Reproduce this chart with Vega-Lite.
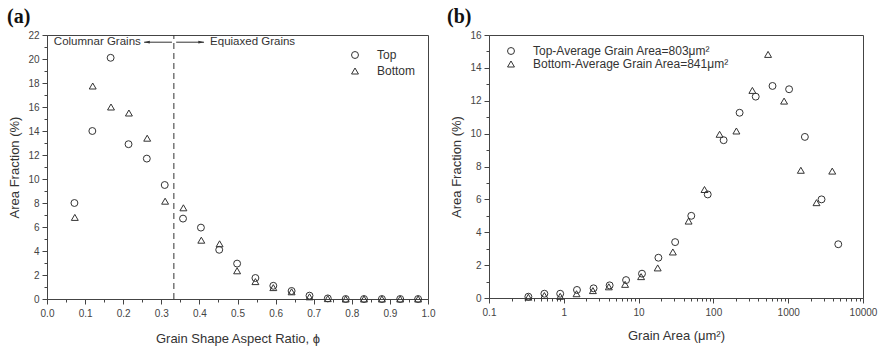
{
  "$schema": "https://vega.github.io/schema/vega-lite/v6.json",
  "padding": {"left": 6, "top": 6, "right": 2, "bottom": 2},
  "background": "white",
  "bounds": "flush",
  "spacing": 61,
  "config": {
    "font": "Liberation Sans",
    "view": {"stroke": "#444", "strokeWidth": 1},
    "axis": {
      "grid": false,
      "labelFont": "Liberation Sans",
      "labelFontSize": 10,
      "labelColor": "#444",
      "labelFlush": false,
      "titleFont": "Liberation Sans",
      "titleFontSize": 13,
      "titleFontWeight": "normal",
      "titleColor": "#333",
      "domainColor": "#444",
      "tickColor": "#444",
      "tickSize": 5,
      "labelPadding": 3
    },
    "legend": {
      "labelFont": "Liberation Sans",
      "labelFontSize": 12,
      "labelColor": "#333",
      "labelLimit": 0,
      "symbolStrokeColor": "#333",
      "symbolStrokeWidth": 1,
      "symbolFillColor": "transparent"
    }
  },
  "resolve": {"scale": {"shape": "independent"}, "legend": {"shape": "independent"}},
  "hconcat": [
    {
      "width": 381,
      "height": 264,
      "title": {"text": "(a)", "anchor": "start", "frame": "group", "dx": -40, "font": "Liberation Serif", "fontSize": 20, "fontWeight": "bold", "color": "#111", "offset": 3},
      "resolve": {"axis": {"x": "independent", "y": "independent"}},
      "layer": [
        {
          "data": {"values": [{"x": 0.333, "y": 0, "y2": 22}]},
          "mark": {"type": "rule", "strokeDash": [6, 4], "color": "#333", "strokeWidth": 1},
          "encoding": {
            "x": {"field": "x", "type": "quantitative", "scale": {"domain": [0, 1], "nice": false},
              "axis": {"orient": "bottom", "values": [0.05, 0.15, 0.25, 0.35, 0.45, 0.55, 0.65, 0.75, 0.85, 0.95], "labels": false, "domain": false, "tickSize": 3, "title": null}},
            "y": {"field": "y", "type": "quantitative", "scale": {"domain": [0, 22], "nice": false},
              "axis": {"orient": "left", "values": [1, 3, 5, 7, 9, 11, 13, 15, 17, 19, 21], "labels": false, "domain": false, "tickSize": 3, "title": null}},
            "y2": {"field": "y2"}
          }
        },
        {
          "data": {"values": [
            {"x": 0.072, "y": 8.0, "s": "Top"},
            {"x": 0.119, "y": 14.0, "s": "Top"},
            {"x": 0.167, "y": 20.1, "s": "Top"},
            {"x": 0.214, "y": 12.9, "s": "Top"},
            {"x": 0.262, "y": 11.7, "s": "Top"},
            {"x": 0.309, "y": 9.5, "s": "Top"},
            {"x": 0.357, "y": 6.7, "s": "Top"},
            {"x": 0.404, "y": 5.95, "s": "Top"},
            {"x": 0.452, "y": 4.1, "s": "Top"},
            {"x": 0.499, "y": 2.95, "s": "Top"},
            {"x": 0.547, "y": 1.75, "s": "Top"},
            {"x": 0.594, "y": 1.1, "s": "Top"},
            {"x": 0.642, "y": 0.67, "s": "Top"},
            {"x": 0.689, "y": 0.28, "s": "Top"},
            {"x": 0.737, "y": 0.05, "s": "Top"},
            {"x": 0.784, "y": 0.0, "s": "Top"},
            {"x": 0.832, "y": 0.0, "s": "Top"},
            {"x": 0.879, "y": 0.0, "s": "Top"},
            {"x": 0.927, "y": 0.0, "s": "Top"},
            {"x": 0.974, "y": 0.0, "s": "Top"},
            {"x": 0.073, "y": 6.8, "s": "Bottom"},
            {"x": 0.120, "y": 17.75, "s": "Bottom"},
            {"x": 0.168, "y": 16.0, "s": "Bottom"},
            {"x": 0.215, "y": 15.5, "s": "Bottom"},
            {"x": 0.263, "y": 13.4, "s": "Bottom"},
            {"x": 0.310, "y": 8.15, "s": "Bottom"},
            {"x": 0.358, "y": 7.6, "s": "Bottom"},
            {"x": 0.405, "y": 4.9, "s": "Bottom"},
            {"x": 0.453, "y": 4.6, "s": "Bottom"},
            {"x": 0.499, "y": 2.35, "s": "Bottom"},
            {"x": 0.547, "y": 1.45, "s": "Bottom"},
            {"x": 0.594, "y": 0.95, "s": "Bottom"},
            {"x": 0.642, "y": 0.6, "s": "Bottom"},
            {"x": 0.689, "y": 0.18, "s": "Bottom"},
            {"x": 0.737, "y": 0.03, "s": "Bottom"},
            {"x": 0.784, "y": 0.0, "s": "Bottom"},
            {"x": 0.832, "y": 0.0, "s": "Bottom"},
            {"x": 0.879, "y": 0.0, "s": "Bottom"},
            {"x": 0.927, "y": 0.0, "s": "Bottom"},
            {"x": 0.974, "y": 0.0, "s": "Bottom"}
          ]},
          "mark": {"type": "point", "filled": false, "color": "#333", "strokeWidth": 1, "size": 48, "opacity": 1},
          "encoding": {
            "x": {"field": "x", "type": "quantitative",
              "axis": {"orient": "bottom", "values": [0, 0.1, 0.2, 0.3, 0.4, 0.5, 0.6, 0.7, 0.8, 0.9, 1.0], "format": ".1f", "title": "Grain Shape Aspect Ratio, ϕ", "titlePadding": 14, "labelPadding": 4}},
            "y": {"field": "y", "type": "quantitative",
              "axis": {"orient": "left", "values": [0, 2, 4, 6, 8, 10, 12, 14, 16, 18, 20, 22], "title": "Area Fraction (%)", "titlePadding": 6}},
            "shape": {"field": "s", "type": "nominal",
              "scale": {"domain": ["Top", "Bottom"], "range": ["circle", "triangle-up"]},
              "legend": {"title": null, "orient": "none", "legendX": 302, "legendY": 14, "symbolSize": 48, "labelOffset": 16, "rowPadding": 4}}
          }
        },
        {
          "data": {"values": [
            {"x": 0.018, "y": 21.4, "t": "Columnar Grains"},
            {"x": 0.428, "y": 21.4, "t": "Equiaxed Grains"}
          ]},
          "mark": {"type": "text", "align": "left", "baseline": "middle", "fontSize": 11.5, "color": "#333"},
          "encoding": {
            "x": {"field": "x", "type": "quantitative", "axis": null},
            "y": {"field": "y", "type": "quantitative", "axis": null},
            "text": {"field": "t"}
          }
        },
        {
          "data": {"values": [
            {"x": 0.255, "x2": 0.328, "y": 21.4},
            {"x": 0.339, "x2": 0.412, "y": 21.4}
          ]},
          "mark": {"type": "rule", "color": "#333", "strokeWidth": 1},
          "encoding": {
            "x": {"field": "x", "type": "quantitative", "axis": null},
            "x2": {"field": "x2"},
            "y": {"field": "y", "type": "quantitative", "axis": null}
          }
        },
        {
          "data": {"values": [{"x": 0.262, "y": 21.4}]},
          "mark": {"type": "point", "shape": "M-1,0L1,-0.45L1,0.45Z", "filled": true, "color": "#333", "size": 36, "opacity": 1},
          "encoding": {
            "x": {"field": "x", "type": "quantitative", "axis": null},
            "y": {"field": "y", "type": "quantitative", "axis": null}
          }
        },
        {
          "data": {"values": [{"x": 0.405, "y": 21.4}]},
          "mark": {"type": "point", "shape": "M1,0L-1,-0.45L-1,0.45Z", "filled": true, "color": "#333", "size": 36, "opacity": 1},
          "encoding": {
            "x": {"field": "x", "type": "quantitative", "axis": null},
            "y": {"field": "y", "type": "quantitative", "axis": null}
          }
        }
      ]
    },
    {
      "width": 374,
      "height": 263,
      "title": {"text": "(b)", "anchor": "start", "frame": "group", "dx": -42, "font": "Liberation Serif", "fontSize": 20, "fontWeight": "bold", "color": "#111", "offset": 3},
      "resolve": {"axis": {"x": "independent", "y": "independent"}},
      "layer": [
        {
          "data": {"values": [{"x": 0.1, "y": 0}, {"x": 10000, "y": 16}]},
          "mark": {"type": "point", "opacity": 0, "size": 1},
          "encoding": {
            "x": {"field": "x", "type": "quantitative", "scale": {"type": "log", "domain": [0.1, 10000], "nice": false},
              "axis": {"orient": "bottom", "values": [0.2, 0.3, 0.4, 0.5, 0.6, 0.7, 0.8, 0.9, 2, 3, 4, 5, 6, 7, 8, 9, 20, 30, 40, 50, 60, 70, 80, 90, 200, 300, 400, 500, 600, 700, 800, 900, 2000, 3000, 4000, 5000, 6000, 7000, 8000, 9000], "labels": false, "domain": false, "tickSize": 3, "title": null}},
            "y": {"field": "y", "type": "quantitative", "scale": {"domain": [0, 16], "nice": false},
              "axis": {"orient": "left", "values": [1, 3, 5, 7, 9, 11, 13, 15], "labels": false, "domain": false, "tickSize": 3, "title": null}}
          }
        },
        {
          "data": {"values": [
            {"x": 0.336, "y": 0.08, "s": "T"},
            {"x": 0.55, "y": 0.26, "s": "T"},
            {"x": 0.895, "y": 0.26, "s": "T"},
            {"x": 1.5, "y": 0.49, "s": "T"},
            {"x": 2.5, "y": 0.59, "s": "T"},
            {"x": 4.1, "y": 0.77, "s": "T"},
            {"x": 6.8, "y": 1.09, "s": "T"},
            {"x": 11.1, "y": 1.48, "s": "T"},
            {"x": 18.4, "y": 2.45, "s": "T"},
            {"x": 30.8, "y": 3.4, "s": "T"},
            {"x": 50.6, "y": 5.0, "s": "T"},
            {"x": 84, "y": 6.3, "s": "T"},
            {"x": 137, "y": 9.6, "s": "T"},
            {"x": 224, "y": 11.27, "s": "T"},
            {"x": 368, "y": 12.25, "s": "T"},
            {"x": 617, "y": 12.9, "s": "T"},
            {"x": 1028, "y": 12.7, "s": "T"},
            {"x": 1671, "y": 9.8, "s": "T"},
            {"x": 2790, "y": 6.0, "s": "T"},
            {"x": 4670, "y": 3.27, "s": "T"},
            {"x": 0.336, "y": 0.05, "s": "B"},
            {"x": 0.55, "y": 0.15, "s": "B"},
            {"x": 0.895, "y": 0.1, "s": "B"},
            {"x": 1.48, "y": 0.26, "s": "B"},
            {"x": 2.45, "y": 0.45, "s": "B"},
            {"x": 4.0, "y": 0.68, "s": "B"},
            {"x": 6.6, "y": 0.83, "s": "B"},
            {"x": 10.8, "y": 1.3, "s": "B"},
            {"x": 18.0, "y": 1.83, "s": "B"},
            {"x": 28.7, "y": 2.8, "s": "B"},
            {"x": 46.6, "y": 4.68, "s": "B"},
            {"x": 76, "y": 6.6, "s": "B"},
            {"x": 121, "y": 9.96, "s": "B"},
            {"x": 203, "y": 10.16, "s": "B"},
            {"x": 332, "y": 12.63, "s": "B"},
            {"x": 538, "y": 14.82, "s": "B"},
            {"x": 881, "y": 11.98, "s": "B"},
            {"x": 1476, "y": 7.77, "s": "B"},
            {"x": 2390, "y": 5.8, "s": "B"},
            {"x": 3880, "y": 7.72, "s": "B"}
          ]},
          "mark": {"type": "point", "filled": false, "color": "#333", "strokeWidth": 1, "size": 48, "opacity": 1},
          "encoding": {
            "x": {"field": "x", "type": "quantitative",
              "axis": {"orient": "bottom", "values": [0.1, 1, 10, 100, 1000, 10000], "format": "~g", "title": "Grain Area (μm²)", "titlePadding": 12, "labelPadding": 4}},
            "y": {"field": "y", "type": "quantitative",
              "axis": {"orient": "left", "values": [0, 2, 4, 6, 8, 10, 12, 14, 16], "title": "Area Fraction (%)", "titlePadding": 6}},
            "shape": {"field": "s", "type": "nominal",
              "scale": {"domain": ["T", "B"], "range": ["circle", "triangle-up"]},
              "legend": {"title": null, "orient": "none", "legendX": 16, "legendY": 10, "symbolSize": 48, "labelOffset": 16, "rowPadding": 1,
                "labelExpr": "datum.value == 'T' ? 'Top-Average Grain Area=803μm²' : 'Bottom-Average Grain Area=841μm²'"}}
          }
        }
      ]
    }
  ]
}
